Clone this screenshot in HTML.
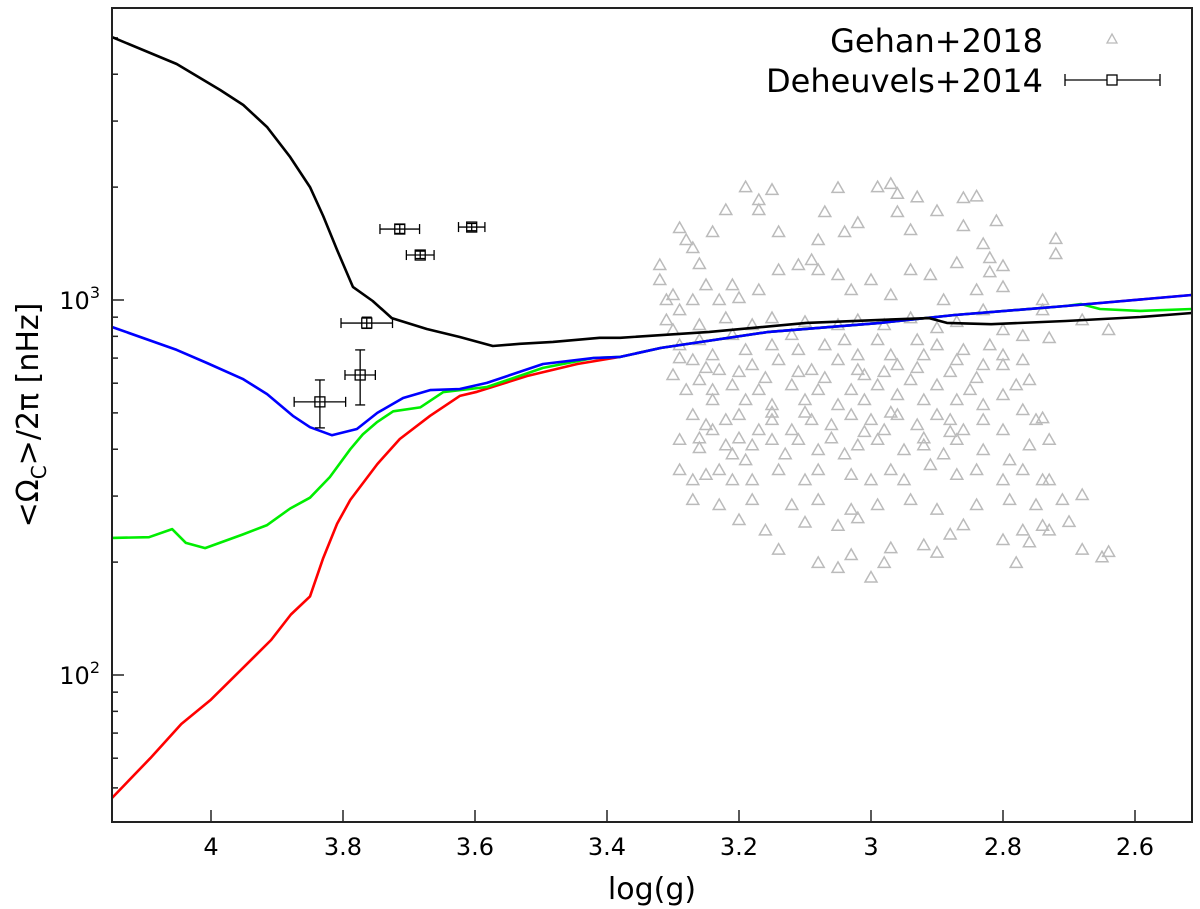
<!DOCTYPE html>
<html><head><meta charset="utf-8"><style>
html,body{margin:0;padding:0;background:#fff;}
svg{display:block;font-family:"DejaVu Sans","Liberation Sans",sans-serif;}
</style></head><body>
<svg id="chart" width="1200" height="909" viewBox="0 0 1200 909">
<g id="grid"></g>
<g id="scatter"></g>
<g id="lines"></g>
<g id="deh"></g>
<rect x="112" y="8" width="1080" height="814" fill="none" stroke="#222" stroke-width="2"/>
<g>
<text x="1043" y="52" font-size="32" text-anchor="end">Gehan+2018</text>
<path d="M1107,43 L1117,43 L1112,34 Z" fill="none" stroke="#bbb" stroke-width="1.3"/>
<text x="1043" y="92" font-size="32" text-anchor="end">Deheuvels+2014</text>
<g>
<line x1="1065" y1="80" x2="1160" y2="80" stroke="#000" stroke-width="1.3"/>
<line x1="1065" y1="74" x2="1065" y2="86" stroke="#000" stroke-width="1.3"/>
<line x1="1160" y1="74" x2="1160" y2="86" stroke="#000" stroke-width="1.3"/>
<rect x="1107" y="75" width="10" height="10" fill="#fff" stroke="#000" stroke-width="1.3"/>
</g>
</g>
<text x="652" y="899" font-size="30" text-anchor="middle">log(g)</text>
<text transform="translate(38,415) rotate(-90)" font-size="30" text-anchor="middle">&lt;Ω<tspan font-size="20" dy="8">C</tspan><tspan dy="-8">&gt;/2π [nHz]</tspan></text>
</svg>
<script>
const NS="http://www.w3.org/2000/svg";
const xTicks=[4,3.8,3.6,3.4,3.2,3,2.8,2.6];
const xTickLabels=["4","3.8","3.6","3.4","3.2","3","2.8","2.6"];
const yMajor=[100,1000];
const yMajorExp=["2","3"];
const blackG=[4.150,4.052,3.986,3.951,3.915,3.880,3.850,3.830,3.809,3.785,3.755,3.726,3.673,3.623,3.573,3.532,3.482,3.411,3.380,3.245,3.098,2.986,2.912,2.885,2.818,2.705,2.592,2.514];
const blackV=[5025,4260,3631,3311,2891,2405,2000,1675,1359,1084,994,895,837,797,754,764,773,793,793,822,869,885,895,869,862,879,901,923];
const blueG=[4.150,4.052,4.006,3.952,3.915,3.876,3.850,3.817,3.779,3.748,3.709,3.668,3.623,3.582,3.497,3.421,3.380,3.318,3.155,2.986,2.873,2.705,2.514];
const blueV=[847,736,679,616,561,491,458,436,453,500,548,575,579,601,675,700,705,745,822,869,912,964,1031];
const greenG=[4.150,4.094,4.059,4.038,4.009,3.952,3.915,3.880,3.850,3.820,3.789,3.770,3.748,3.724,3.683,3.648,3.582,3.497,3.421,3.380,3.318,3.155,2.986,2.873,2.705,2.682,2.653,2.592,2.514];
const greenV=[232,233,245,225,218,237,251,278,297,337,400,438,473,505,517,568,586,659,700,705,745,822,869,912,964,976,946,935,946];
const redG=[4.15,4.092,4.045,4.0,3.955,3.909,3.879,3.850,3.830,3.809,3.789,3.748,3.714,3.668,3.623,3.597,3.521,3.445,3.380,3.318,3.155,2.986,2.873,2.705,2.514];
const redV=[47,60,74,86,103,124,145,162,205,253,293,365,426,491,555,569,627,675,705,745,822,869,912,964,1031];
const dehG=[3.835,3.774,3.764,3.683,3.714,3.605];
const dehV=[535,631,868,1318,1546,1565];
const dehXerr=[0.039,0.023,0.039,0.021,0.030,0.020];
const dehVlo=[456,525,840,1290,1505,1530];
const dehVhi=[612,736,900,1350,1590,1600];
const gehanG=[3.19,3.15,3.17,3.22,3.17,3.05,2.99,2.97,2.96,2.93,2.84,2.86,3.07,2.96,2.90,2.81,2.94,2.86,2.72,2.72,2.83,2.82,2.87,2.82,2.80,2.80,3.02,3.04,3.08,3.14,3.09,3.29,3.27,3.28,3.24,3.26,3.32,3.32,3.31,3.30,3.29,3.27,3.25,3.21,3.23,3.20,3.17,3.14,3.11,3.08,3.05,3.03,3.00,2.97,2.94,2.91,2.89,2.84,2.83,2.74,2.74,2.68,2.64,2.73,2.77,2.77,2.80,
3.30,3.29,3.27,3.30,3.26,3.24,3.23,3.21,3.19,3.18,3.15,3.14,3.12,3.11,3.09,3.07,3.05,3.04,3.02,3.01,2.99,2.97,2.96,2.93,2.92,2.90,2.87,2.86,2.83,2.82,2.80,2.78,2.76,2.80,
3.28,3.26,3.24,3.21,3.19,3.17,3.15,3.12,3.10,3.08,3.05,3.03,3.01,2.99,2.96,2.94,2.92,2.90,2.87,2.85,2.83,
3.27,3.25,3.22,3.20,3.17,3.15,3.12,3.09,3.06,3.03,3.00,2.98,2.96,2.93,2.90,2.88,2.86,2.83,2.80,2.77,2.75,
3.29,3.26,3.24,3.21,3.18,3.15,3.13,3.11,3.08,3.04,3.02,2.99,2.95,2.92,2.89,2.87,2.83,2.79,2.76,2.73,2.74,
3.29,3.27,3.25,3.23,3.21,3.19,3.18,3.14,3.10,3.08,3.03,3.00,2.97,2.95,2.91,2.87,2.84,2.80,2.77,2.73,
3.27,3.23,3.18,3.12,3.08,3.03,2.99,2.94,2.90,2.84,2.79,2.75,2.71,2.68,2.74,
3.20,3.16,3.14,3.10,3.05,3.03,3.02,2.97,2.92,2.90,2.88,2.86,2.80,2.77,2.76,2.73,2.70,2.64,2.68,2.74,3.08,3.05,3.00,2.98,2.78,2.65,
3.31,3.26,3.22,3.18,3.15,3.10,3.05,3.02,2.98,2.94,2.90,2.87,2.80,3.29,3.25,3.20,3.16,3.11,3.07,3.02,2.98,2.93,2.88,2.84,3.24,3.20,3.15,3.10,3.06,3.01,2.97,2.92,2.88,3.26,3.22];
const gehanV=[2000,1967,1848,1738,1738,1990,2000,2040,1920,1880,1890,1870,1716,1716,1727,1624,1537,1575,1455,1326,1410,1294,1255,1187,1232,1083,1605,1518,1445,1518,1278,1556,1376,1445,1518,1247,1240,1131,1000,1031,940,1000,1096,1096,1000,1012,1063,1202,1240,1202,1166,1063,1131,1031,1202,1166,1000,1063,940,1000,940,884,832,792,802,692,713,
832,758,692,631,782,713,651,807,736,671,758,692,807,736,651,758,692,782,713,631,782,713,671,782,713,758,692,736,671,758,671,593,612,558,
576,612,541,593,541,576,525,593,541,576,525,576,541,593,558,612,541,593,541,576,525,
494,464,479,494,450,479,450,479,464,494,479,450,494,464,494,479,450,479,450,509,479,
424,403,450,388,410,424,388,424,398,388,410,424,398,410,388,424,398,374,410,424,484,
352,331,342,352,331,374,331,352,331,352,342,331,352,331,363,342,352,331,352,331,
293,284,293,284,293,276,284,293,276,284,293,284,293,302,331,
259,243,216,255,250,209,262,218,222,212,237,251,229,243,226,243,256,213,216,250,199,193,182,199,199,206,
884,858,895,858,895,874,858,884,858,895,842,874,832,700,659,643,620,643,620,651,643,659,643,620,576,428,501,501,428,445,501,428,445,428,410];

const X=g=>211+(4-g)*660;
const Y=v=>300-375*Math.log10(v/1000);
const L=112,R=1192,T=8,B=822;

const grid=document.getElementById('grid');
function mk(tag,attrs,parent){const e=document.createElementNS(NS,tag);for(const k in attrs)e.setAttribute(k,attrs[k]);parent.appendChild(e);return e;}
xTicks.forEach((t,i)=>{
  const x=X(t);
  const tk=mk('line',{x1:x,y1:B,x2:x,y2:B-12,stroke:'#222','stroke-width':1.5},grid);
  
  
  const lb=mk('text',{x:x,y:855,'font-size':24,'text-anchor':'middle'},grid);
  lb.textContent=xTickLabels[i];
  
  
});
for(let d=10;d<=1000;d*=10){for(let m=1;m<10;m++){const v=d*m;const y=Y(v);if(y<T||y>B)continue;
  const major=(m===1);
  const tk=mk('line',{x1:L,y1:y,x2:L+(major?12:6),y2:y,stroke:'#222','stroke-width':1.5},grid);
  
  
}}
yMajor.forEach((v,i)=>{
  const t=mk('text',{x:100,y:Y(v)+9,'font-size':24,'text-anchor':'end'},grid);
  t.innerHTML='10<tspan font-size="16" dy="-11">'+yMajorExp[i]+'</tspan>';
  
  
});

const sc=document.getElementById('scatter');
for(let i=0;i<gehanG.length;i++){const x=X(gehanG[i]),y=Y(gehanV[i]);
  const p=mk('path',{d:`M${x-6},${y+4.5} L${x+6},${y+4.5} L${x},${y-6} Z`,fill:'none',stroke:'#bbb','stroke-width':1.5},sc);
  
  
}

const lines=document.getElementById('lines');
function curve(G,V,col,name){
  const d=G.map((g,i)=>(i?'L':'M')+X(g).toFixed(1)+','+Y(V[i]).toFixed(1)).join(' ');
  const p=mk('path',{d:d,fill:'none',stroke:col,'stroke-width':2.6,'stroke-linejoin':'round'},lines);
  
  
}
curve(redG,redV,'#ff0000','red-curve');
curve(greenG,greenV,'#00ee00','green-curve');
curve(blueG,blueV,'#0000ff','blue-curve');
curve(blackG,blackV,'#000000','black-curve');

const dh=document.getElementById('deh');
for(let i=0;i<dehG.length;i++){
  const x=X(dehG[i]),y=Y(dehV[i]);
  const x1=X(dehG[i]+dehXerr[i]),x2=X(dehG[i]-dehXerr[i]);
  const y1=Y(dehVlo[i]),y2=Y(dehVhi[i]);
  const g=mk('g',{stroke:'#000','stroke-width':1.3},dh);
  
  
  mk('line',{x1:x1,y1:y,x2:x2,y2:y},g);
  mk('line',{x1:x1,y1:y-5,x2:x1,y2:y+5},g);
  mk('line',{x1:x2,y1:y-5,x2:x2,y2:y+5},g);
  mk('line',{x1:x,y1:y1,x2:x,y2:y2},g);
  mk('line',{x1:x-5,y1:y1,x2:x+5,y2:y1},g);
  mk('line',{x1:x-5,y1:y2,x2:x+5,y2:y2},g);
  mk('rect',{x:x-5,y:y-5,width:10,height:10,fill:'none'},g);
}
</script>
</body></html>
